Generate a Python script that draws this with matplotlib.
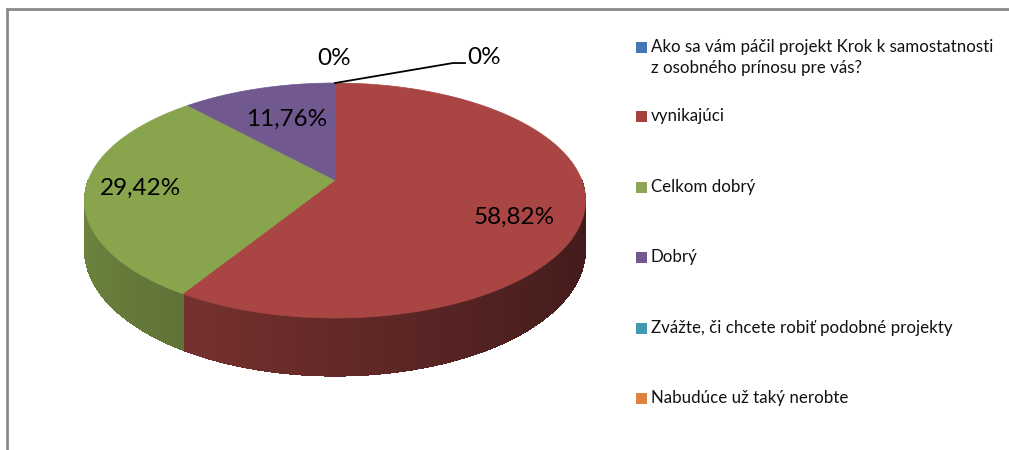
import numpy as np
import matplotlib
matplotlib.use("Agg")
import matplotlib.pyplot as plt
from matplotlib.patches import Polygon, Rectangle

# data
labels = ["Ako sa vám páčil projekt Krok k samostatnosti\nz osobného prínosu pre vás?",
          "vynikajúci", "Celkom dobrý", "Dobrý",
          "Zvážte, či chcete robiť podobné projekty", "Nabudúce už taký nerobte"]
values = [0, 58.82, 29.42, 11.76, 0, 0]
base_colors = ["#4F81BD", "#C0504D", "#9BBB59", "#8064A2", "#4BACC6", "#F79646"]
legend_colors = ["#4677B5", "#A5423F", "#8CA453", "#72588F", "#409BB2", "#E0823F"]

# pie geometry (pixels), simple perspective tilt
CX, CY = 335, 180
R = 246.7
K = 0.1745
B = 113.9
DEPTH = 48


def proj(r, ang, z=0.0):
    a = np.radians(ang)
    u = r * np.cos(a)
    v = r * np.sin(a)
    s = 1.0 / (1.0 + K * v)
    return CX + R * u * s, CY - B * v * s + z * DEPTH * s


def shade(col, f):
    c = np.array(matplotlib.colors.to_rgb(col))
    return tuple(np.clip(c * f, 0, 1))


fig = plt.figure(figsize=(10.09, 4.5), dpi=100)
ax = fig.add_axes([0, 0, 1, 1])
ax.set_xlim(0, 1009)
ax.set_ylim(450, 0)
ax.axis("off")

# chart border (only left and top visible)
ax.plot([7, 7, 1020], [470, 9, 9], color="#898989", lw=2, solid_joinstyle="miter")

# slice angles: start at 12 o'clock, clockwise
total = sum(values)
spans = []
start = 90.0
for val in values:
    sweep = 360.0 * val / total
    spans.append((start - sweep, start))
    start -= sweep

# sides (front half only)
for (a0, a1), col in zip(spans, base_colors):
    if a1 - a0 <= 0:
        continue
    lo, hi = a0 % 360, a0 % 360 + (a1 - a0)
    for off in (0, 360, -360):
        s0 = max(lo + off, 180)
        s1 = min(hi + off, 360)
        if s1 <= s0:
            continue
        n = max(2, int(s1 - s0))
        angs = np.linspace(s0, s1, n + 1)
        # solid underlay to hide seams
        under = [proj(1, t) for t in angs] + [proj(1, t, 1) for t in angs[::-1]]
        fm = 0.52 - 0.18 * np.cos(np.radians((s0 + s1) / 2))
        ax.add_patch(Polygon(under, closed=True, facecolor=shade(col, fm), edgecolor="none"))
        for t0, t1 in zip(angs[:-1], angs[1:]):
            f = 0.52 - 0.18 * np.cos(np.radians((t0 + t1) / 2))
            c = shade(col, f)
            pts = [proj(1, t0), proj(1, t1 + 0.3), proj(1, t1 + 0.3, 1), proj(1, t0, 1)]
            ax.add_patch(Polygon(pts, closed=True, facecolor=c, edgecolor="none",
                                 antialiased=False))

# top faces
for (a0, a1), col in zip(spans, base_colors):
    if a1 - a0 <= 0:
        continue
    angs = np.linspace(a0, a1, 200)
    pts = [proj(0, 0)] + [proj(1, t) for t in angs]
    c = shade(col, 0.88)
    ax.add_patch(Polygon(pts, closed=True, facecolor=c, edgecolor=c, lw=0.5))

# data labels
lab_font = dict(family="Lato", fontsize=17.5, color="black", ha="center", va="center")
lab_r = {1: 0.73, 2: 0.78, 3: 0.6}
lab_dy = {1: 14, 2: 0, 3: -3}
for i, val in enumerate(values):
    if val == 0:
        continue
    a0, a1 = spans[i]
    x, y = proj(lab_r[i], (a0 + a1) / 2)
    ax.text(x, y + lab_dy[i], f"{val:.2f}%".replace(".", ","), **lab_font)

# zero labels
x0, y0 = proj(1, 90)
ax.text(x0 - 1, y0 - 25, "0%", **lab_font)
ax.plot([x0, x0 + 118, x0 + 130], [y0, y0 - 20, y0 - 20], color="black", lw=1.3)
ax.text(x0 + 132, y0 - 26, "0%", family="Lato", fontsize=17.5, ha="left", va="center")

# legend
ly = 47
for lab, col in zip(labels, legend_colors):
    ax.add_patch(Rectangle((636, ly - 5), 11, 11, facecolor=col, edgecolor="none"))
    ax.text(651, ly - 8, lab, family="Lato", fontsize=12.2, ha="left", va="top",
            linespacing=1.4, color="#111111")
    ly += 70.6 if lab != labels[0] else 69

fig.savefig("out.png", dpi=100)
